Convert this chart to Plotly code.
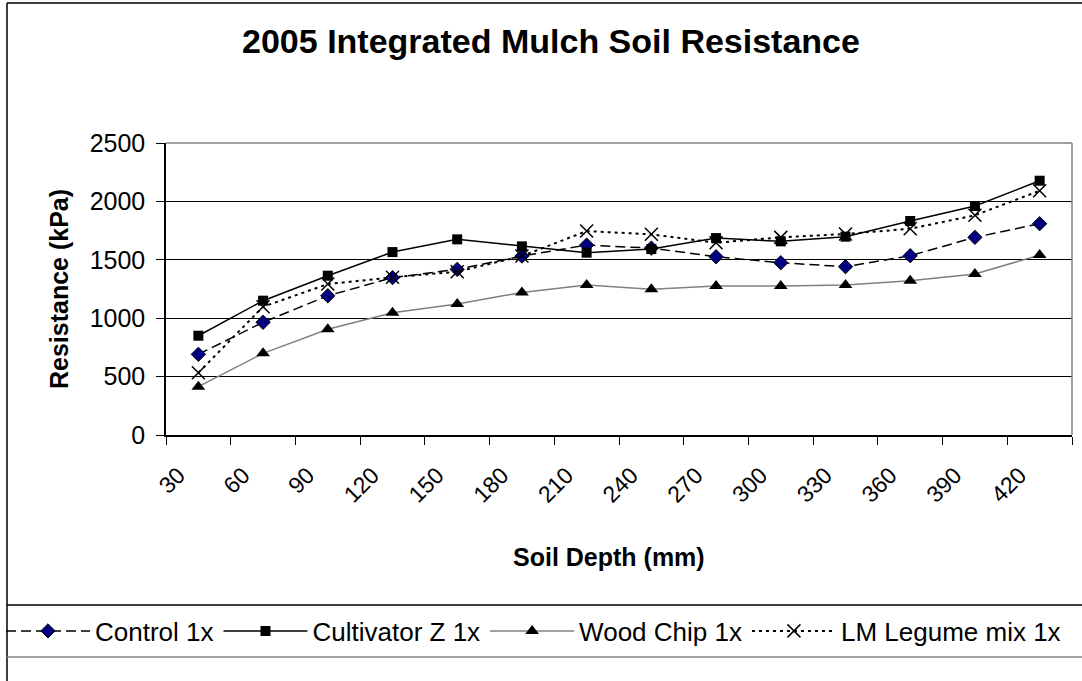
import plotly.graph_objects as go

depth = ["30", "60", "90", "120", "150", "180", "210", "240", "270", "300", "330", "360", "390", "420"]
control = [691, 965, 1192, 1347, 1418, 1532, 1626, 1600, 1526, 1475, 1441, 1535, 1692, 1809]
cultivator = [850, 1150, 1364, 1566, 1675, 1615, 1561, 1592, 1686, 1658, 1698, 1832, 1960, 2177]
woodchip = [414, 699, 905, 1047, 1121, 1221, 1284, 1247, 1275, 1275, 1284, 1321, 1378, 1541]
legume = [533, 1098, 1292, 1350, 1398, 1532, 1746, 1718, 1646, 1692, 1721, 1766, 1881, 2091]

W, H = 1082, 681
L, R, T, B = 166, 10, 143, 246
PW, PH = W - L - R, H - T - B
FONT = "Liberation Sans, Arial, sans-serif"


def px(x):
    return (x - L) / PW


def py(y):
    return (H - B - y) / PH


fig = go.Figure()
fig.add_trace(go.Scatter(
    x=depth, y=control, name="Control 1x", mode="lines+markers",
    line=dict(color="black", width=1.5, dash="10px,5px"),
    marker=dict(symbol="diamond", size=11, color="#000080", line=dict(color="black", width=1))))
fig.add_trace(go.Scatter(
    x=depth, y=cultivator, name="Cultivator Z 1x", mode="lines+markers",
    line=dict(color="black", width=1.5),
    marker=dict(symbol="square", size=10, color="black")))
fig.add_trace(go.Scatter(
    x=depth, y=woodchip, name="Wood Chip 1x", mode="lines+markers",
    line=dict(color="#808080", width=1.5),
    marker=dict(symbol="triangle-up", size=12, color="black")))
fig.add_trace(go.Scatter(
    x=depth, y=legume, name="LM Legume mix 1x", mode="lines+markers",
    line=dict(color="black", width=2, dash="3px,4px"),
    marker=dict(symbol="x-thin-open", size=13, color="black", line=dict(color="black", width=1.5))))

shapes = [
    # plot area border (top, right) in gray
    dict(type="line", xref="paper", yref="paper", x0=0, x1=1, y0=1, y1=1, line=dict(color="#808080", width=1.5)),
    dict(type="line", xref="paper", yref="paper", x0=1, x1=1, y0=0, y1=1, line=dict(color="#808080", width=1.5)),
    # chart border
    dict(type="line", xref="paper", yref="paper", x0=px(7), x1=px(1090), y0=py(3), y1=py(3), line=dict(color="black", width=1.5)),
    dict(type="line", xref="paper", yref="paper", x0=px(7), x1=px(7), y0=py(3), y1=py(690), line=dict(color="black", width=1.5)),
    # legend box
    dict(type="line", xref="paper", yref="paper", x0=px(7), x1=px(1090), y0=py(605), y1=py(605), line=dict(color="black", width=1.5)),
    dict(type="line", xref="paper", yref="paper", x0=px(7), x1=px(1090), y0=py(657), y1=py(657), line=dict(color="#808080", width=1.5)),
]

annotations = [
    dict(text="<b>Soil Depth (mm)</b>", xref="paper", yref="paper", x=px(609), y=py(557),
         xanchor="center", yanchor="middle", showarrow=False, font=dict(size=25, family=FONT, color="black")),
]

fig.update_layout(
    width=W, height=H,
    margin=dict(l=L, r=R, t=T, b=B, autoexpand=False),
    paper_bgcolor="white", plot_bgcolor="white",
    font=dict(family=FONT, color="black", size=25),
    title=dict(text="<b>2005 Integrated Mulch Soil Resistance</b>", x=551 / W, xanchor="center",
               y=1 - 41 / H, yanchor="middle", xref="container", yref="container",
               font=dict(size=34, family=FONT, color="black")),
    showlegend=True,
    legend=dict(orientation="h", x=px(1), xanchor="left", y=py(631), yanchor="middle",
                font=dict(size=26, family=FONT), itemwidth=84, bgcolor="rgba(0,0,0,0)",
                tracegroupgap=0),
    shapes=shapes,
    annotations=annotations,
    xaxis=dict(
        type="category", range=[-0.5, len(depth) - 0.5], autorange=False,
        tickson="boundaries", ticks="outside", ticklen=8, tickcolor="black",
        showline=True, linecolor="black", linewidth=1.5, showgrid=False, zeroline=False,
        tickangle=-45, tickfont=dict(size=23, family=FONT), ticklabelstandoff=16, ticklabelshift=-20,
    ),
    yaxis=dict(
        range=[0, 2500], dtick=500, tick0=0, ticks="outside", ticklen=8, tickcolor="black",
        showline=True, linecolor="black", linewidth=1.5, showgrid=True, gridcolor="black", gridwidth=1,
        zeroline=False, tickfont=dict(size=25, family=FONT), ticklabelstandoff=6,
        title=dict(text="<b>Resistance (kPa)</b>", font=dict(size=25, family=FONT), standoff=14),
    ),
)

fig.write_html("out.html", config={"displayModeBar": False},
               post_script="document.body.style.margin='0';")
